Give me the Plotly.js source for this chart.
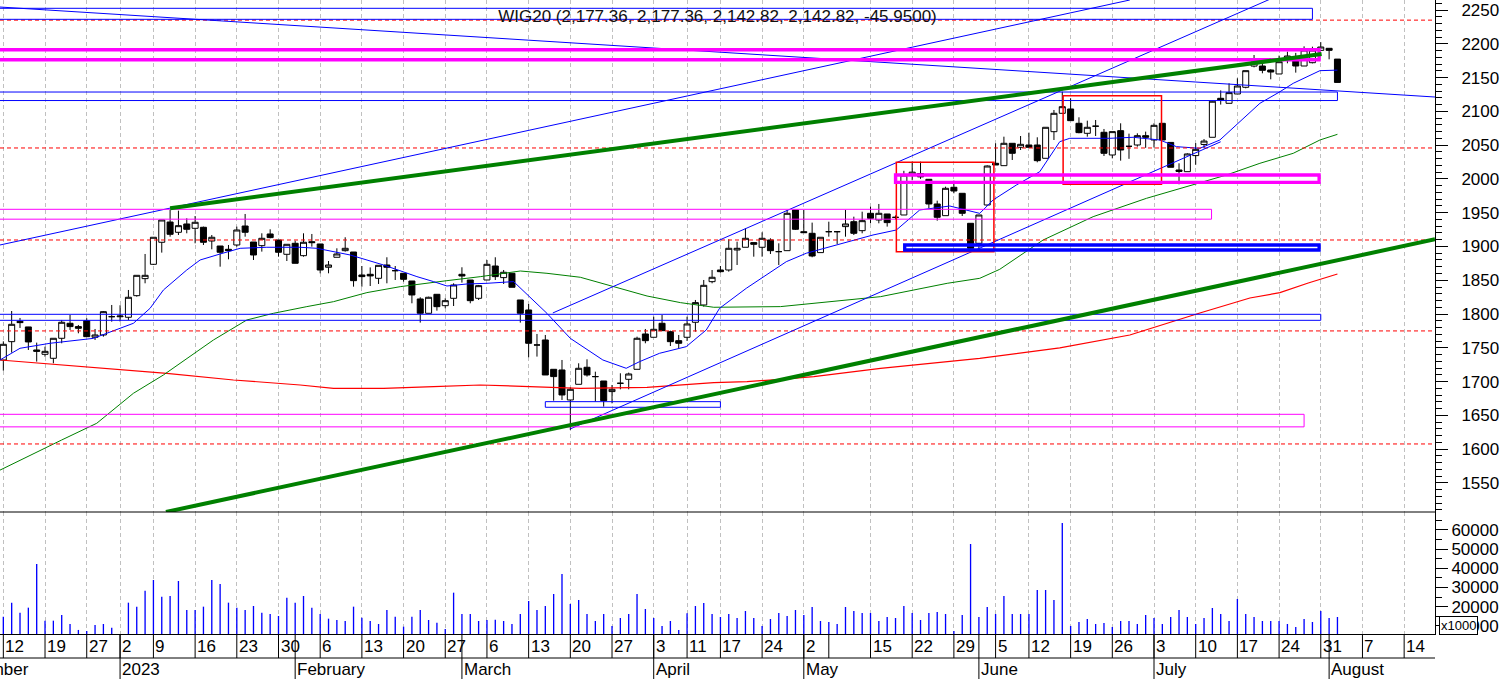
<!DOCTYPE html>
<html>
<head>
<meta charset="utf-8">
<script src="https://cdn.plot.ly/plotly-3.0.1.min.js"></script>
<style>
  html, body { margin: 0; padding: 0; background: #ffffff; }
  #chart { width: 1506px; height: 679px; }
</style>
</head>
<body>
<div id="chart"></div>
<script>
// ---------------- DATA ----------------
// Trading days from 12 Dec 2022 (index 0) to 2 Aug 2023 (index 160)
const open = [1732.0,1759.1,1789.2,1780.9,1746.8,1740.4,1734.5,1764.1,1786.3,1781.4,
1790.2,1765.6,1769.0,1796.1,1796.0,1795.2,1827.2,1852.4,1873.6,1906.2,
1936.2,1921.0,1933.3,1926.9,1928.4,1908.1,1900.7,1895.8,1902.2,1930.3,
1906.6,1901.2,1918.5,1909.6,1888.4,1904.7,1886.4,1907.1,1903.7,1869.2,
1884.0,1893.8,1891.8,1857.8,1858.8,1852.9,1872.6,1864.2,1860.3,1848.9,
1822.3,1801.1,1829.2,1812.4,1823.3,1858.8,1850.4,1823.3,1850.4,1871.1,
1853.9,1860.3,1820.8,1806.0,1754.2,1761.6,1718.2,1717.2,1672.8,1696.0,
1721.2,1707.4,1700.9,1685.2,1697.5,1703.4,1718.2,1770.5,1765.6,1786.3,
1773.9,1760.6,1765.6,1787.8,1813.4,1847.9,1865.2,1865.2,1894.8,1898.8,
1905.7,1898.8,1909.6,1892.4,1893.8,1954.0,1921.9,1919.5,1890.9,1921.9,
1921.9,1929.4,1936.7,1923.4,1949.1,1939.2,1948.1,1943.1,1946.6,2005.0,
2008.0,1999.4,1962.9,1945.6,1987.6,1978.7,1934.3,1904.7,1961.4,2023.1,
2019.6,2052.7,2046.8,2050.2,2050.2,2030.5,2069.9,2097.1,2103.5,2082.3,
2067.5,2078.0,2069.0,2035.4,2071.4,2048.2,2050.2,2064.0,2057.6,2082.3,
2054.0,2013.2,2010.7,2034.5,2051.0,2061.6,2119.3,2111.9,2125.7,2135.6,
2167.0,2167.1,2161.2,2155.3,2177.0,2176.0,2167.1,2172.0,2190.3,2193.3,
2177.36];
const high = [1759.6,1804.5,1794.2,1781.0,1757.7,1751.7,1764.1,1791.2,1798.6,1783.8,
1793.7,1777.9,1804.5,1813.4,1813.0,1835.6,1857.3,1888.9,1913.6,1939.2,
1954.0,1953.0,1941.7,1945.1,1929.4,1917.0,1900.7,1902.2,1929.4,1948.1,
1906.6,1919.5,1925.4,1909.6,1903.2,1908.6,1919.5,1918.5,1903.7,1878.5,
1897.3,1913.6,1891.8,1871.1,1869.0,1872.1,1884.0,1871.1,1860.3,1848.9,
1824.8,1825.7,1829.2,1823.3,1845.5,1869.2,1850.4,1843.0,1880.0,1884.0,
1865.2,1860.3,1820.8,1814.9,1770.5,1769.0,1718.2,1732.0,1691.6,1727.1,
1733.0,1714.7,1700.9,1695.0,1712.3,1713.3,1766.5,1777.9,1796.1,1798.6,
1775.4,1769.0,1796.1,1820.8,1850.4,1865.2,1871.1,1910.6,1907.1,1926.9,
1905.7,1921.0,1912.1,1904.7,1954.0,1954.0,1954.0,1935.3,1913.6,1936.7,
1921.9,1954.0,1944.1,1951.5,1958.9,1962.9,1948.1,1946.0,2012.0,2025.5,
2025.5,1999.4,1967.8,1988.5,1997.4,1978.7,1934.3,1946.6,2020.0,2052.7,
2062.5,2052.7,2063.5,2068.5,2061.6,2076.4,2102.0,2129.1,2119.3,2091.2,
2086.2,2087.2,2073.9,2070.0,2082.3,2067.0,2067.5,2070.0,2082.3,2082.3,
2054.0,2023.1,2037.9,2053.0,2059.0,2115.8,2131.0,2141.5,2148.9,2160.2,
2183.4,2174.5,2162.2,2182.5,2188.3,2186.5,2196.2,2195.7,2202.4,2193.3,
2177.36];
const low = [1716.2,1742.9,1779.4,1746.8,1729.6,1736.9,1727.1,1756.7,1776.4,1771.5,
1766.5,1761.6,1766.5,1788.7,1789.0,1791.2,1825.7,1845.5,1872.6,1890.9,
1914.5,1917.0,1919.5,1904.7,1902.2,1895.8,1870.1,1881.0,1899.7,1914.5,
1880.0,1892.4,1912.1,1884.9,1878.5,1875.1,1884.9,1899.7,1860.3,1860.3,
1884.0,1892.4,1840.5,1840.5,1841.5,1844.5,1845.5,1850.4,1847.9,1815.9,
1787.3,1801.0,1805.0,1808.5,1811.9,1846.5,1815.9,1820.8,1850.4,1850.4,
1844.5,1839.6,1787.3,1736.0,1737.0,1709.8,1671.8,1672.8,1628.4,1696.0,
1707.4,1670.4,1663.0,1667.9,1688.6,1688.6,1718.2,1756.7,1765.6,1775.4,
1752.7,1749.3,1760.1,1773.9,1810.9,1845.5,1861.3,1862.7,1872.6,1898.8,
1884.9,1884.9,1888.9,1872.6,1893.8,1924.4,1920.5,1884.0,1890.9,1914.5,
1903.7,1914.5,1917.0,1919.5,1934.3,1934.3,1929.4,1940.0,1946.6,1998.0,
2000.0,1956.5,1938.2,1945.6,1978.7,1945.1,1893.0,1895.8,1960.0,2020.6,
2019.6,2028.0,2042.8,2046.8,2024.6,2030.5,2057.6,2097.1,2086.2,2067.5,
2062.5,2063.5,2033.9,2030.4,2027.0,2029.7,2047.7,2046.0,2046.5,2057.6,
2017.2,1992.0,2010.7,2021.0,2045.3,2061.6,2110.0,2111.9,2125.7,2134.1,
2165.1,2156.3,2147.4,2155.3,2171.1,2157.3,2167.1,2171.0,2189.8,2177.0,
2142.82];
const close = [1755.2,1784.8,1787.3,1758.7,1744.8,1744.8,1764.1,1787.8,1781.4,1778.9,
1766.5,1769.0,1803.5,1796.1,1797.0,1824.8,1857.3,1857.3,1913.6,1939.2,
1918.0,1930.8,1925.4,1935.8,1906.2,1913.6,1891.4,1893.8,1924.4,1921.0,
1887.4,1912.1,1913.1,1891.4,1903.2,1875.1,1906.2,1905.7,1865.2,1872.6,
1888.9,1897.3,1849.4,1855.4,1856.4,1872.1,1869.2,1864.2,1851.4,1828.2,
1801.1,1824.8,1810.9,1819.8,1843.0,1856.3,1819.8,1842.0,1873.6,1855.4,
1861.8,1839.6,1801.1,1756.7,1754.2,1709.8,1707.4,1680.2,1688.6,1719.7,
1709.8,1707.4,1671.8,1688.6,1697.5,1711.3,1764.1,1760.6,1777.4,1775.4,
1759.1,1756.7,1785.3,1816.9,1842.5,1854.4,1862.7,1897.3,1897.3,1912.1,
1903.2,1912.1,1893.8,1892.4,1949.1,1925.4,1920.5,1885.9,1913.6,1921.9,
1921.9,1933.3,1919.5,1938.2,1941.7,1949.1,1935.3,1943.1,2005.8,2010.0,
2003.0,1962.9,1943.2,1986.1,1982.1,1949.1,1897.3,1946.6,2019.1,2020.6,
2052.7,2037.9,2051.2,2046.8,2027.0,2076.4,2097.1,2106.9,2086.2,2068.5,
2076.4,2078.0,2037.9,2070.0,2042.8,2048.2,2064.0,2061.6,2079.3,2057.6,
2017.2,2011.0,2036.9,2043.8,2056.0,2115.0,2116.8,2127.7,2137.5,2160.2,
2173.0,2160.7,2158.2,2173.5,2181.9,2167.1,2190.8,2190.8,2195.2,2190.3,
2142.82];
const volume = [14809,22100,16900,19500,42240,12725,12725,15680,10990,7900,
7340,10470,10990,9080,5000,22100,20020,28350,33900,25225,
25570,33385,18280,18280,20020,33900,31820,22100,19500,18280,
20365,16900,16200,15160,24700,22100,25570,19500,16200,13770,
13070,12550,20020,14290,12550,10990,18280,14810,9600,14810,
18280,13070,11690,8380,27310,16200,16200,12550,13070,13200,
12550,10990,16200,22970,18280,20365,26610,37030,21400,23490,
16200,12550,16200,9950,14115,16200,26610,18800,14115,9950,
12550,7860,16545,20365,21930,16200,14640,16200,14115,17760,
14115,9950,13590,16720,15160,18280,15680,19840,12550,12030,
10990,19840,17760,16720,16720,12550,14640,14115,20365,16720,
13070,16720,17240,16200,7340,15680,52650,14640,19840,16200,
25570,16200,16200,16200,28700,28700,23490,63590,9950,12030,
13590,10990,11510,9430,12550,12550,10990,15680,14115,10990,
14640,18280,14640,10990,14115,19320,16200,12550,24010,16200,
14640,12550,12550,12550,10990,9430,13590,12030,17760,14115,
14640];

// moving averages (trading-day index, value)
const maShortX = [-0.4,2.0,5.6,10.8,12.4,15.6,17.6,19.2,22.0,23.6,26.0,28.4,31.6,35.6,37.6,39.6,41.6,45.6,49.6,51.6,53.2,55.6,58.0,61.2,65.2,68.0,71.9,74.7,76.3,78.7,81.9,84.3,85.9,89.1,91.5,93.9,96.3,99.1,101.1,104.3,107.1,109.9,113.5,115.5,117.1,118.7,121.5,124.3,126.7,127.9,132.7,135.5,138.7,140.7,143.5,145.9,150.7,153.1,154.7,157.9,160];
const maShortY = [1732,1749.3,1756.7,1764,1771.5,1786.3,1808.5,1835.6,1865.2,1880,1888.9,1897.3,1898.8,1898.8,1897.3,1892.4,1887.4,1872.6,1855.4,1848,1841.5,1844.5,1845.5,1848,1801,1764,1732,1719.7,1729.5,1741.9,1751.7,1776.4,1808.5,1838.1,1857.8,1877.5,1890,1899.7,1906.2,1917,1924.4,1954,1959.9,1954,1949,1968.8,1991,2010.7,2055.1,2060.1,2060.1,2061.6,2057.6,2047.7,2045.3,2057.6,2111.9,2129,2141.5,2160.2,2161];
const maMidX = [-0.4,3.0,7.0,11.2,15.6,19.2,25.2,29.2,32.4,36.4,39.6,43.6,47.6,53.2,57.2,62,65.2,69.2,73.2,77.2,81.2,85.2,93.2,97.2,101.2,105.2,109.2,113.2,117.1,119.5,124.7,130.7,137.1,142.7,146.7,150.7,154.7,157.9,160];
const maMidY = [1569,1590,1613.6,1638.3,1682.7,1709.8,1761.6,1791.2,1801.1,1811,1818.3,1831.7,1840.5,1849.4,1855.3,1863.7,1860.3,1854.4,1840.5,1826.7,1816.9,1810,1811,1815.9,1820.8,1825.7,1835.6,1845.5,1852.9,1866.2,1909.6,1944.1,1971.3,1991,2005.8,2023.1,2037.9,2057.6,2066];
const maLongX = [-0.4,5.6,11.6,19.6,27.6,35.6,39.6,45.6,51.6,57.2,69.2,77.2,85.2,89.2,93.2,97.2,105.2,109.2,117.1,126.7,135.1,143.5,149.5,153.1,156.5,160];
const maLongY = [1732,1726.1,1719.7,1712.3,1702.4,1695,1690.1,1690.1,1692.5,1695,1690.1,1691.6,1698.5,1700,1703.4,1707.4,1719.7,1724.6,1734.5,1749.8,1769,1801.6,1823.8,1831.6,1846,1859.3];

// analyst drawings (trading-day index, price)
const thinBlueLines = [[-0.4,2254.4,171.7,2121.2],[-0.4,1902.2,135.1,2264.8],[65.9,1801.6,152,2266.5],[68,1630,146,2055]];
const thickGreenLines = [[20,1956.5,158.1,2184.9],[19.5,1507,171.7,1910.6]];
const blueThinBoxes = [[-2,157,2236.2,2252.5],[-2,160,2116,2128.6],[-2,158,1790.7,1799.6],[65,86,1662,1670.3]];
const magentaThinBoxes = [[-2,144.9,1940.4,1955],[-2,156,1633,1651.6]];
const magentaThickBoxes = [[-2,157.8,2176.4,2191.2],[107,157.8,1995,2005.8]];
const blueThickBoxes = [[108.1,157.8,1894.8,1902.2]];
const redBoxes = [[107.1,118.8,1892.3,2024.6],[127.1,138.9,1992,2123.2]];
const redLevels = [2235,2045.8,1909.6,1775,1607.7];

// time axis
const weekIdx = [0,5,10,14,18,23,28,33,38,43,48,53,58,63,68,73,78,82,86,91,96,99,104,109,114,119,123,128,133,138,143,148,153,158,163,168];
const weekLbl = ['12','19','27','2','9','16','23','30','6','13','20','27','6','13','20','27','3','11','17','24','2','','15','22','29','5','12','19','26','3','10','17','24','31','7','14'];
const monthIdx = [14,35,55,78,96,117,138,159];
const monthLbl = ['2023','February','March','April','May','June','July','August'];
const prevMonthLbl = 'December';
const priceTicks = [1550,1600,1650,1700,1750,1800,1850,1900,1950,2000,2050,2100,2150,2200,2250];
const volTicks = [10000,20000,30000,40000,50000,60000];
const titleText = 'WIG20 (2,177.36, 2,177.36, 2,142.82, 2,142.82, -45.9500)';

// ---------------- DRAWING ----------------
const FONT = 'Liberation Sans, Arial, sans-serif';
const dayIndex = close.map((_, i) => i);
const gridIdx = weekIdx.filter((v, k) => weekLbl[k] !== '');

const traces = [
  {
    type: 'candlestick', x: dayIndex, open: open, high: high, low: low, close: close,
    xaxis: 'x', yaxis: 'y', whiskerwidth: 0, hoverinfo: 'skip', showlegend: false,
    increasing: { line: { color: '#000000', width: 1 }, fillcolor: '#ffffff' },
    decreasing: { line: { color: '#000000', width: 1 }, fillcolor: '#000000' }
  },
  { type: 'scatter', mode: 'lines', x: maLongX, y: maLongY, xaxis: 'x', yaxis: 'y',
    line: { color: '#ff0000', width: 1.2 }, hoverinfo: 'skip', showlegend: false },
  { type: 'scatter', mode: 'lines', x: maMidX, y: maMidY, xaxis: 'x', yaxis: 'y',
    line: { color: '#008000', width: 1 }, hoverinfo: 'skip', showlegend: false },
  { type: 'scatter', mode: 'lines', x: maShortX, y: maShortY, xaxis: 'x', yaxis: 'y',
    line: { color: '#0000ff', width: 1 }, hoverinfo: 'skip', showlegend: false },
  { type: 'bar', x: dayIndex, y: volume, xaxis: 'x', yaxis: 'y2', width: 0.16,
    marker: { color: '#0000ff', line: { width: 0 } }, hoverinfo: 'skip', showlegend: false }
];

const shapes = [];
redLevels.forEach(v => shapes.push({ type: 'line', xref: 'paper', x0: 0, x1: 1, yref: 'y', y0: v, y1: v,
  line: { color: '#ff0000', width: 1, dash: '4px,3px' }, layer: 'above' }));
thinBlueLines.forEach(l => shapes.push({ type: 'line', xref: 'x', yref: 'y', x0: l[0], y0: l[1], x1: l[2], y1: l[3],
  line: { color: '#0000ff', width: 1 }, layer: 'above' }));
const addBoxes = (arr, color, width) => arr.forEach(b => shapes.push({ type: 'rect', xref: 'x', yref: 'y',
  x0: b[0], x1: b[1], y0: b[2], y1: b[3], line: { color: color, width: width }, fillcolor: 'rgba(0,0,0,0)', layer: 'above' }));
addBoxes(blueThinBoxes, '#0000ff', 1);
addBoxes(magentaThinBoxes, '#ff00ff', 1);
addBoxes(redBoxes, '#ff0000', 1.5);
addBoxes(magentaThickBoxes, '#ff00ff', 3.3);
addBoxes(blueThickBoxes, '#0000ff', 3.3);
thickGreenLines.forEach(l => shapes.push({ type: 'line', xref: 'x', yref: 'y', x0: l[0], y0: l[1], x1: l[2], y1: l[3],
  line: { color: '#008000', width: 4 }, layer: 'above' }));

// frame: panel separator and date rows
const PLOT_H = 634;
const volFrac = 122 / PLOT_H;
shapes.push({ type: 'line', xref: 'paper', yref: 'paper', x0: 0, x1: 1, y0: volFrac, y1: volFrac, line: { color: '#000', width: 1 } });
shapes.push({ type: 'line', xref: 'paper', yref: 'paper', x0: 0, x1: 1, y0: -24 / PLOT_H, y1: -24 / PLOT_H, line: { color: '#000', width: 1 } });
weekIdx.forEach(v => shapes.push({ type: 'line', xref: 'x', yref: 'paper', x0: v, x1: v, y0: 0, y1: -24 / PLOT_H, line: { color: '#000', width: 1 } }));
monthIdx.forEach(v => shapes.push({ type: 'line', xref: 'x', yref: 'paper', x0: v, x1: v, y0: 0, y1: -46 / PLOT_H, line: { color: '#000', width: 1 } }));

const annotations = [];
weekIdx.forEach((v, k) => { if (weekLbl[k]) annotations.push({ text: weekLbl[k], xref: 'x', yref: 'paper', x: v, y: 0,
  xanchor: 'left', yanchor: 'middle', yshift: -12.5, showarrow: false, font: { family: FONT, size: 17, color: '#000' } }); });
monthIdx.forEach((v, k) => annotations.push({ text: monthLbl[k], xref: 'x', yref: 'paper', x: v, y: 0,
  xanchor: 'left', yanchor: 'middle', yshift: -35, showarrow: false, font: { family: FONT, size: 17, color: '#000' } }));
annotations.push({ text: prevMonthLbl, xref: 'x', yref: 'paper', x: 3.3, y: 0, xanchor: 'right', yanchor: 'middle', yshift: -35,
  showarrow: false, font: { family: FONT, size: 17, color: '#000' } });
annotations.push({ text: 'x1000', xref: 'paper', yref: 'paper', x: 1458 / 1435, y: (634 - 625.5) / PLOT_H, xanchor: 'center', yanchor: 'middle',
  showarrow: false, bgcolor: '#ffffff', bordercolor: '#000000', borderwidth: 1, borderpad: 1,
  font: { family: FONT, size: 13, color: '#000' } });

const layout = {
  width: 1506, height: 679,
  margin: { l: 0, r: 71, t: 0, b: 45, pad: 0 },
  paper_bgcolor: '#ffffff', plot_bgcolor: '#ffffff',
  showlegend: false,
  boxgap: 0.28, boxgroupgap: 0,
  font: { family: FONT, size: 17, color: '#000' },
  title: { text: titleText, font: { family: FONT, size: 17, color: '#111' }, xref: 'paper', x: 0.5, xanchor: 'center',
    yref: 'container', y: 1 - 16 / 679, yanchor: 'middle' },
  xaxis: {
    range: [-0.4, 171.7], anchor: 'y2', domain: [0, 1],
    tickmode: 'array', tickvals: gridIdx, showticklabels: false, ticks: '',
    showgrid: true, gridcolor: '#c0c0c0', gridwidth: 1, griddash: '4px,3px',
    showline: true, linecolor: '#000', linewidth: 1, zeroline: false,
    rangeslider: { visible: false }, fixedrange: true
  },
  yaxis: {
    domain: [volFrac, 1], range: [1507, 2264.8], side: 'right', anchor: 'x',
    tickmode: 'array', tickvals: priceTicks, ticks: 'outside', ticklen: 12, tickwidth: 1, tickcolor: '#000',
    minor: { dtick: 10, tick0: 0, ticks: 'outside', ticklen: 6, tickwidth: 1, tickcolor: '#000', showgrid: false },
    ticklabelstandoff: 10,
    showgrid: false, zeroline: false, showline: true, linecolor: '#000', linewidth: 1,
    tickfont: { family: FONT, size: 17, color: '#000' }, fixedrange: true
  },
  yaxis2: {
    domain: [0, volFrac], range: [5780, 69320], side: 'right', anchor: 'x',
    tickmode: 'array', tickvals: volTicks, tickformat: 'd', ticks: 'outside', ticklen: 12, tickwidth: 1, tickcolor: '#000',
    minor: { dtick: 5000, tick0: 0, ticks: 'outside', ticklen: 6, tickwidth: 1, tickcolor: '#000', showgrid: false },
    showgrid: false, zeroline: false, showline: true, linecolor: '#000', linewidth: 1,
    tickfont: { family: FONT, size: 17, color: '#000' }, fixedrange: true
  },
  shapes: shapes,
  annotations: annotations
};

Plotly.newPlot('chart', traces, layout, { displayModeBar: false, staticPlot: true });
</script>
</body>
</html>
